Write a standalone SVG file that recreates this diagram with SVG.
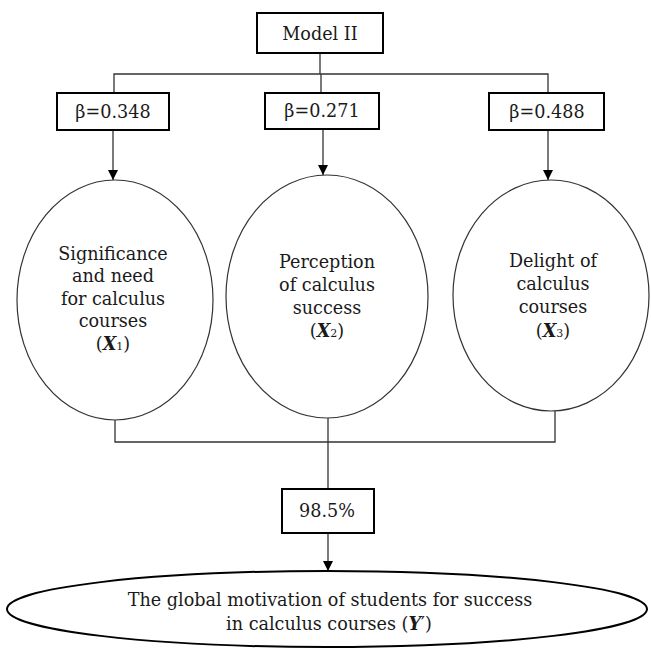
<svg xmlns="http://www.w3.org/2000/svg" width="651" height="650" viewBox="0 0 651 650">
<style>
.box{fill:#fff;stroke:#000;stroke-width:2}
.ell{fill:#fff;stroke:#333;stroke-width:1.2}
.big{fill:#fff;stroke:#000;stroke-width:2}
.ln{fill:none;stroke:#333;stroke-width:1.3}
text{font-family:"DejaVu Serif","Liberation Serif",serif;font-size:17.6px;fill:#1a1a1a;text-anchor:middle}
.bi{font-weight:bold;font-style:italic}
.sub{font-size:11px}
</style>
<defs>
<marker id="ah" viewBox="0 0 10 10" refX="10" refY="5" markerWidth="10" markerHeight="10" markerUnits="userSpaceOnUse" orient="auto">
<path d="M0,0 L10,5 L0,10 z" fill="#000"/>
</marker>
</defs>
<rect width="651" height="650" fill="#fff"/>
<g id="connectors">
<path class="ln" d="M320,53 V74 M114,93 V74 H548 V93 M321,74 V93"/>
<path class="ln" d="M113,130 V180" marker-end="url(#ah)"/>
<path class="ln" d="M323,129 V175" marker-end="url(#ah)"/>
<path class="ln" d="M548,130 V180" marker-end="url(#ah)"/>
<path class="ln" d="M115,420 V442 H555 V411 M328,418 V489"/>
<path class="ln" d="M328,533 V571" marker-end="url(#ah)"/>
</g>
<g id="model">
<rect class="box" x="257" y="13" width="126" height="40"/>
<text x="320" y="40">Model II</text>
</g>
<g id="beta1">
<rect class="box" x="57" y="93" width="112" height="37"/>
<text x="113" y="118">β=0.348</text>
</g>
<g id="beta2">
<rect class="box" x="265" y="93" width="114" height="36"/>
<text x="322" y="117">β=0.271</text>
</g>
<g id="beta3">
<rect class="box" x="489" y="93" width="115" height="37"/>
<text x="547" y="118">β=0.488</text>
</g>
<g id="x1">
<ellipse class="ell" cx="115" cy="300" rx="98" ry="120"/>
<text x="113" y="260">Significance</text>
<text x="113" y="282">and need</text>
<text x="113" y="305">for calculus</text>
<text x="113" y="327">courses</text>
<text x="113" y="350">(<tspan class="bi">X</tspan><tspan class="sub">1</tspan>)</text>
</g>
<g id="x2">
<ellipse class="ell" cx="327" cy="296.5" rx="101" ry="121.5"/>
<text x="327" y="268">Perception</text>
<text x="327" y="291">of calculus</text>
<text x="327" y="314">success</text>
<text x="327" y="337">(<tspan class="bi">X</tspan><tspan class="sub">2</tspan>)</text>
</g>
<g id="x3">
<ellipse class="ell" cx="551" cy="295.5" rx="98" ry="115.5"/>
<text x="553" y="267">Delight of</text>
<text x="553" y="290">calculus</text>
<text x="553" y="313">courses</text>
<text x="553" y="337">(<tspan class="bi">X</tspan><tspan class="sub">3</tspan>)</text>
</g>
<g id="r2">
<rect class="box" x="282" y="489" width="92" height="44"/>
<text x="327" y="517">98.5%</text>
</g>
<g id="y">
<ellipse class="big" cx="327" cy="609" rx="320" ry="38"/>
<text x="330" y="606">The global motivation of students for success</text>
<text x="329" y="630">in calculus courses (<tspan class="bi">Y</tspan>′)</text>
</g>
</svg>
